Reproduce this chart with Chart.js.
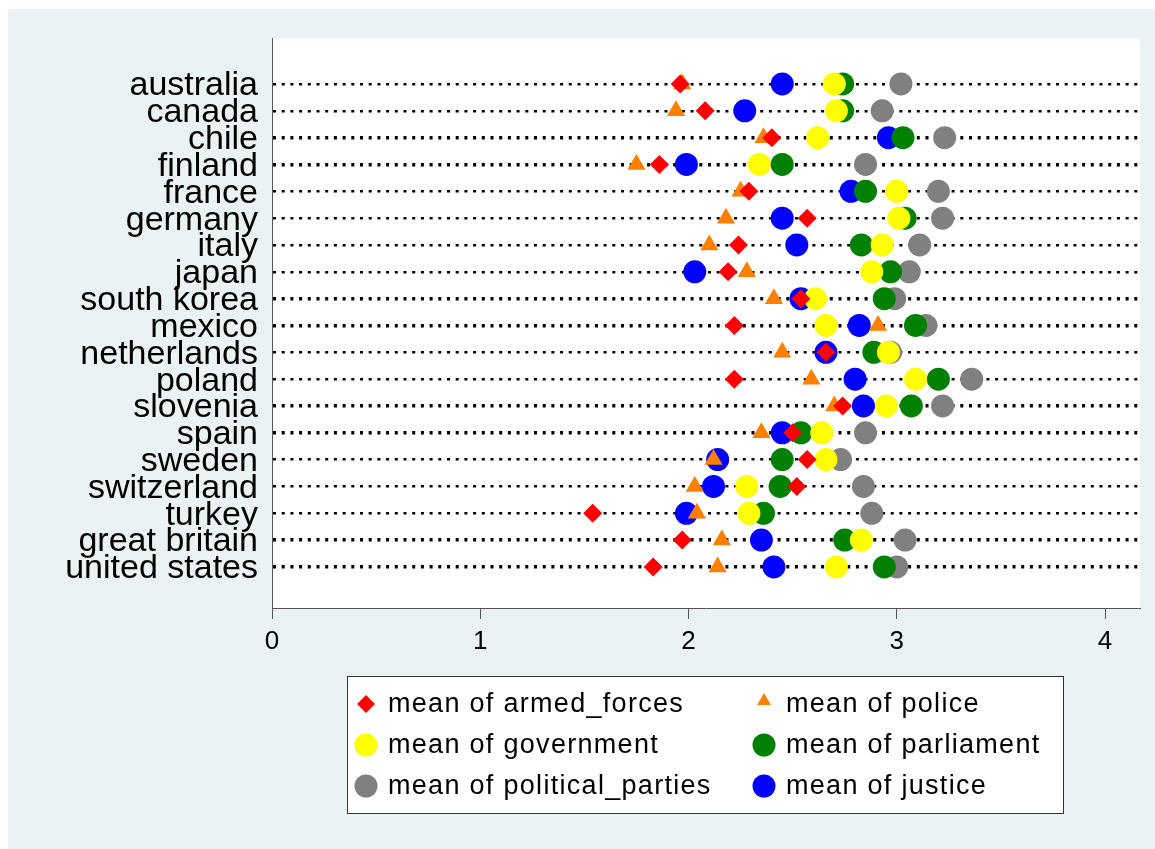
<!DOCTYPE html>
<html>
<head>
<meta charset="utf-8">
<script src="https://cdn.jsdelivr.net/npm/chart.js@4.4.1/dist/chart.umd.min.js"></script>
<style>
  html, body { margin: 0; padding: 0; background: #fff; }
  #wrap { width: 1155px; height: 849px; position: relative; }
</style>
</head>
<body>
<div id="wrap"><canvas id="chart" width="1155" height="849"></canvas></div>
<script>
// --- data ---
const countries = ['australia', 'canada', 'chile', 'finland', 'france', 'germany', 'italy', 'japan',
  'south korea', 'mexico', 'netherlands', 'poland', 'slovenia', 'spain', 'sweden', 'switzerland',
  'turkey', 'great britain', 'united states'];

const armedForces      = [1.96, 2.08, 2.40, 1.86, 2.29, 2.57, 2.24, 2.19, 2.54, 2.22, 2.66, 2.22, 2.74, 2.50, 2.57, 2.52, 1.54, 1.97, 1.83];
const police           = [1.97, 1.94, 2.36, 1.75, 2.25, 2.18, 2.10, 2.28, 2.41, 2.91, 2.45, 2.59, 2.70, 2.35, 2.12, 2.03, 2.04, 2.16, 2.14];
const government       = [2.70, 2.71, 2.62, 2.34, 3.00, 3.01, 2.93, 2.88, 2.61, 2.66, 2.96, 3.09, 2.95, 2.64, 2.66, 2.28, 2.29, 2.83, 2.71];
const parliament       = [2.74, 2.74, 3.03, 2.45, 2.85, 3.04, 2.83, 2.97, 2.94, 3.09, 2.89, 3.20, 3.07, 2.54, 2.45, 2.44, 2.36, 2.75, 2.94];
const politicalParties = [3.02, 2.93, 3.23, 2.85, 3.20, 3.22, 3.11, 3.06, 2.99, 3.14, 2.97, 3.36, 3.22, 2.85, 2.73, 2.84, 2.88, 3.04, 3.00];
const justice          = [2.45, 2.27, 2.96, 1.99, 2.78, 2.45, 2.52, 2.03, 2.54, 2.82, 2.66, 2.80, 2.84, 2.45, 2.14, 2.12, 1.99, 2.35, 2.41];

const seriesLabels = ['mean of armed_forces', 'mean of police', 'mean of government',
  'mean of parliament', 'mean of political_parties', 'mean of justice'];
const xTicks = [0, 1, 2, 3, 4];

// --- styling ---
const FONT = '"Liberation Sans", Arial, sans-serif';
const BG_OUTER = '#eaf2f3';
// rows whose dotted line renders heavier in the original
const heavyRows = [2, 3, 8, 9, 12, 13, 17, 18];

const toPoints = vals => vals.map((v, i) => ({ x: v, y: i }));

const mk = (label, vals, color, style, radius) => ({
  label,
  data: toPoints(vals),
  showLine: false,
  pointStyle: style,
  pointRadius: radius,
  pointBackgroundColor: color,
  pointBorderWidth: 0,
  backgroundColor: color,
  borderColor: color,
});

// dataset 0 is drawn last (on top), matching the reference stacking
const datasets = [
  mk(seriesLabels[0], armedForces, '#ff0000', 'rectRot', 9.5),
  mk(seriesLabels[1], police, '#ff7f00', 'triangle', 10.5),
  mk(seriesLabels[2], government, '#ffff00', 'circle', 11.5),
  mk(seriesLabels[3], parliament, '#008000', 'circle', 11.5),
  mk(seriesLabels[4], politicalParties, '#808080', 'circle', 11.5),
  mk(seriesLabels[5], justice, '#0000ff', 'circle', 11.5),
];

// background panels
const bgPlugin = {
  id: 'bg',
  beforeDraw(chart) {
    const { ctx, chartArea: a } = chart;
    ctx.save();
    ctx.fillStyle = '#fff';
    ctx.fillRect(0, 0, chart.width, chart.height);
    ctx.fillStyle = BG_OUTER;
    ctx.fillRect(8, 9, chart.width - 8, chart.height - 9);
    ctx.fillStyle = '#fff';
    ctx.fillRect(a.left, a.top, a.right - a.left, a.bottom - a.top);
    ctx.restore();
  },
};

// two-column boxed legend like Stata's
const legendPlugin = {
  id: 'boxLegend',
  afterDraw(chart) {
    const ctx = chart.ctx;
    const box = { x: 347, y: 676, w: 716, h: 137 };
    const colX = [366, 764];
    const rowY = [704, 745, 786];
    ctx.save();
    ctx.fillStyle = '#fff';
    ctx.fillRect(box.x, box.y, box.w, box.h);
    ctx.strokeStyle = '#333';
    ctx.lineWidth = 1;
    ctx.strokeRect(box.x + 0.5, box.y + 0.5, box.w, box.h);
    ctx.font = '27px ' + FONT;
    ctx.letterSpacing = '1.3px';
    ctx.textBaseline = 'middle';
    chart.data.datasets.forEach((ds, i) => {
      const cx = colX[i % 2];
      const cy = rowY[Math.floor(i / 2)];
      const r = ds.pointStyle === 'circle' ? 11.5 : (ds.pointStyle === 'triangle' ? 8 : 9);
      ctx.fillStyle = ds.pointBackgroundColor;
      Chart.helpers.drawPoint(ctx, { pointStyle: ds.pointStyle, radius: r, rotation: 0, borderWidth: 0 }, cx, ds.pointStyle === 'triangle' ? cy - 3 : cy);
      ctx.fillStyle = '#000';
      ctx.fillText(ds.label, cx + 22, cy + 1);
    });
    ctx.restore();
  },
};

new Chart(document.getElementById('chart'), {
  type: 'line',
  data: { datasets },
  plugins: [bgPlugin, legendPlugin],
  options: {
    responsive: false,
    animation: false,
    events: [],
    devicePixelRatio: 1,
    layout: { padding: { top: 38, right: 15, left: 0, bottom: 0 } },
    plugins: { legend: { display: false }, tooltip: { enabled: false } },
    scales: {
      x: {
        type: 'linear',
        min: 0,
        max: 4.168,
        afterBuildTicks: s => { s.ticks = xTicks.map(v => ({ value: v })); },
        afterFit: s => { s.height = 241; },
        grid: { display: true, drawOnChartArea: false, drawTicks: true, tickLength: 11, tickColor: '#555', tickWidth: 1 },
        border: { display: true, color: '#555', width: 1 },
        ticks: { color: '#000', padding: 7, font: { family: FONT, size: 26 } },
      },
      y: {
        type: 'linear',
        reverse: true,
        min: -1.714,
        max: 19.53,
        afterBuildTicks: s => { s.ticks = countries.map((c, i) => ({ value: i })); },
        afterFit: s => { s.width = 272; },
        grid: {
          color: '#000',
          lineWidth: ctx => heavyRows.includes(ctx.index) ? 3.6 : 2.6,
          drawTicks: false,
        },
        border: { display: true, color: '#555', width: 1, dash: [3, 5.7] },
        ticks: {
          autoSkip: false,
          color: '#000',
          padding: 14,
          labelOffset: 2,
          font: { family: FONT, size: 34 },
          callback: v => countries[v],
        },
      },
    },
  },
});
</script>
</body>
</html>
